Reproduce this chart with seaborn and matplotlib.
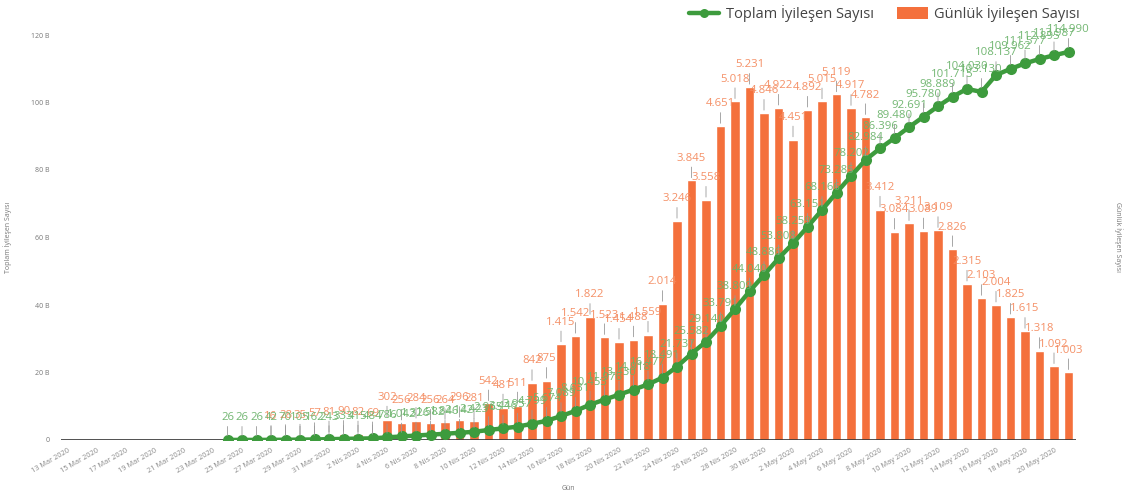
import numpy as np
import pandas as pd
import matplotlib
matplotlib.use("Agg")
import matplotlib.pyplot as plt
import seaborn as sns
from matplotlib.lines import Line2D
from matplotlib.patches import Patch

# Turkish month abbreviations used on the date axis
ay_adlari = {3: "Mar", 4: "Nis", 5: "May"}
gun_tarihleri = pd.date_range("2020-03-13", "2020-05-21", freq="D")
gun_etiketleri = [f"{d.day} {ay_adlari[d.month]} {d.year}" for d in gun_tarihleri]

# Cumulative recovered (from 24 Mar 2020)
toplam_baslangic = "2020-03-24"
toplam_iyilesen = [
    26, 26, 26, 42, 70, 105, 162, 243,
    333, 415, 484, 786, 1042, 1326, 1582, 1846, 2142, 2423,
    2965, 3446, 3957, 4799, 5674, 7089, 8631, 10453, 11976, 13430,
    14918, 16477, 18491, 21737, 25582, 29140, 33791, 38809, 44040, 48886,
    53808, 58259, 63151, 68166, 73285, 78202, 82984, 86396, 89480, 92691,
    95780, 98889, 101715, 104030, 103130, 108137, 109962, 111577, 112895,
    113987, 114990,
]

# Daily recovered (from 27 Mar 2020)
gunluk_baslangic = "2020-03-27"
gunluk_iyilesen = [
    16, 28, 35, 57, 81,
    90, 82, 69, 302, 256, 284, 256, 264, 296, 281,
    542, 481, 511, 842, 875, 1415, 1542, 1822, 1523, 1454,
    1488, 1559, 2014, 3246, 3845, 3558, 4651, 5018, 5231, 4846,
    4922, 4451, 4892, 5015, 5119, 4917, 4782, 3412, 3084, 3211,
    3089, 3109, 2826, 2315, 2103, 2004, 1825, 1615, 1318, 1092,
    1003,
]

sol_eksen_tikleri = [0, 20000, 40000, 60000, 80000, 100000, 120000]
sag_eksen_tikleri = [0, 1000, 2000, 3000, 4000, 5000, 6000]

YESIL = "#3d9b3d"
YESIL_YAZI = "#6bb36b"
TURUNCU = "#f4703c"
TURUNCU_YAZI = "#f48a5e"
GRI = "#777777"

df = pd.DataFrame({"tarih": gun_tarihleri, "etiket": gun_etiketleri})
df["idx"] = np.arange(len(df))
t0 = int((pd.Timestamp(toplam_baslangic) - gun_tarihleri[0]).days)
g0 = int((pd.Timestamp(gunluk_baslangic) - gun_tarihleri[0]).days)
df["toplam"] = np.nan
df.loc[t0:t0 + len(toplam_iyilesen) - 1, "toplam"] = toplam_iyilesen
df["gunluk"] = np.nan
df.loc[g0:g0 + len(gunluk_iyilesen) - 1, "gunluk"] = gunluk_iyilesen

sns.set_theme(style="white")
plt.rcParams["font.family"] = ["Open Sans", "DejaVu Sans"]

fig = plt.figure(figsize=(11.36, 4.95), dpi=100)
ax = fig.add_axes([60.75 / 1136, 55 / 495, 1015 / 1136, 405 / 495])

# Daily bars on the primary axis (its scale shown on the right)
sns.barplot(data=df, x="idx", y="gunluk", color=TURUNCU, width=0.66,
            saturation=1, ax=ax, zorder=2)
ax.set_ylim(0, 6000)
ax.yaxis.tick_right()
ax.yaxis.set_label_position("right")

# Cumulative line on the twin axis (its scale shown on the left)
ax2 = ax.twinx()
sns.lineplot(data=df.dropna(subset=["toplam"]), x="idx", y="toplam", color=YESIL,
             linewidth=3.2, marker="o", markersize=8, markeredgewidth=0,
             ax=ax2, zorder=3)
ax2.set_ylim(0, 120000)
ax2.yaxis.tick_left()
ax2.yaxis.set_label_position("left")
ax.set_xlim(-0.5, len(df) - 0.5)


def fmt(v):
    return f"{int(v):,}".replace(",", ".")


# Value labels with short leader lines
for _, r in df.dropna(subset=["gunluk"]).iterrows():
    ax.annotate(fmt(r["gunluk"]), xy=(r["idx"], r["gunluk"]), xytext=(0, 12),
                textcoords="offset points", ha="center", va="bottom",
                fontsize=8.2, color=TURUNCU_YAZI, alpha=0.95,
                arrowprops=dict(arrowstyle="-", color="#999999", lw=0.6,
                                shrinkA=0, shrinkB=2), zorder=4)
for _, r in df.dropna(subset=["toplam"]).iterrows():
    ax2.annotate(fmt(r["toplam"]), xy=(r["idx"], r["toplam"]), xytext=(0, 12),
                 textcoords="offset points", ha="center", va="bottom",
                 fontsize=8.2, color=YESIL_YAZI, alpha=0.95,
                 arrowprops=dict(arrowstyle="-", color="#999999", lw=0.6,
                                 shrinkA=0, shrinkB=3), zorder=5)

# Axis ticks and labels
ax.set_yticks(sag_eksen_tikleri)
ax.set_yticklabels(["0" if v == 0 else f"{v // 1000} B" for v in sag_eksen_tikleri])
ax2.set_yticks(sol_eksen_tikleri)
ax2.set_yticklabels(["0" if v == 0 else f"{v // 1000} B" for v in sol_eksen_tikleri])
ax.tick_params(axis="y", labelleft=False)
ax2.tick_params(axis="y", labelright=False)
for a in (ax, ax2):
    a.tick_params(axis="y", length=0, labelsize=5, labelcolor=GRI, pad=8)
    for s in a.spines.values():
        s.set_visible(False)
    a.grid(False)

ax.set_xticks(df["idx"][::2])
ax.set_xticklabels(df["etiket"][::2], rotation=30, ha="right",
                   rotation_mode="anchor", fontsize=5.3, color="#888888")
ax.tick_params(axis="x", length=0, pad=5)
ax.axhline(0, color="#333333", lw=1.2, zorder=6)

ax.set_xlabel("Gün", fontsize=5, color=GRI, labelpad=7)
ax.set_ylabel("Günlük İyileşen Sayısı", fontsize=5, color=GRI, rotation=270,
              labelpad=34)
ax2.set_ylabel("Toplam İyileşen Sayısı", fontsize=5, color=GRI, labelpad=14)
ax2.set_xlabel("")

legend_elems = [
    Line2D([0], [0], color=YESIL, lw=3.2, marker="o", markersize=6.5,
           markeredgewidth=0, label="Toplam İyileşen Sayısı"),
    Patch(facecolor=TURUNCU, edgecolor="none", label="Günlük İyileşen Sayısı"),
]
fig.legend(handles=legend_elems, loc="upper right",
           bbox_to_anchor=(1080 / 1136, 1 - 5 / 495),
           ncol=2, frameon=False, fontsize=10.5, handlelength=2.1,
           handleheight=0.85, handletextpad=0.45, columnspacing=1.6,
           borderpad=0, borderaxespad=0, labelcolor="#444444")

fig.savefig("out.png", dpi=100, facecolor="white")
